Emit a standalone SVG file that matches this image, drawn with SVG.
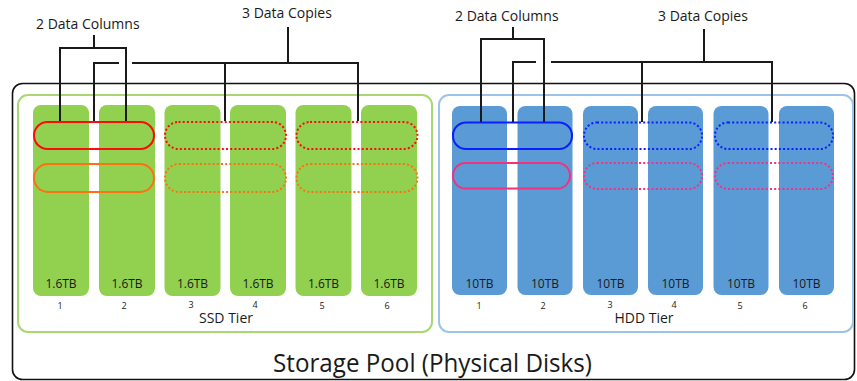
<svg xmlns="http://www.w3.org/2000/svg" width="857" height="381" viewBox="0 0 857 381">
  <style>
    text { font-family: "Open Sans", "Liberation Sans", sans-serif; fill: #1a1a1a; }
    .label { font-size: 14px; }
    .cap { font-size: 12px; text-anchor: middle; }
    .num { font-size: 9px; text-anchor: middle; }
    .tier { font-size: 14px; text-anchor: middle; }
    .ssd { fill: #92D050; }
    .hdd { fill: #5B9BD5; }
    .ring { fill: none; stroke-width: 2; }
    .dot { stroke-dasharray: 2 2.2; }
    .red { stroke: #ff0a0a; }
    .orange { stroke: #ff7010; }
    .blue { stroke: #0a1eff; }
    .pink { stroke: #f5307e; }
    .conn { fill: none; stroke: #1a1a1a; stroke-width: 2; }
  </style>

  <!-- storage pool frame -->
  <g id="storage-pool">
    <rect x="12.5" y="83.5" width="842" height="296" rx="10" fill="#ffffff" stroke="#111" stroke-width="1.6"/>
    <text x="273" y="372" font-size="26" textLength="319" lengthAdjust="spacingAndGlyphs">Storage Pool (Physical Disks)</text>
  </g>

  <!-- SSD tier -->
  <g id="ssd-tier">
    <rect x="18" y="95" width="414" height="237" rx="10" fill="none" stroke="#a9d873" stroke-width="2"/>
    <text class="tier" x="226" y="323">SSD Tier</text>
  </g>
  <g id="ssd-disks">
    <g id="ssd-1"><rect class="ssd" x="33" y="105" width="56" height="191" rx="8"/><text class="cap" x="61" y="288">1.6TB</text><text class="num" x="60" y="309">1</text></g>
    <g id="ssd-2"><rect class="ssd" x="99" y="105" width="56" height="191" rx="8"/><text class="cap" x="127" y="288">1.6TB</text><text class="num" x="124" y="309">2</text></g>
    <g id="ssd-3"><rect class="ssd" x="164.5" y="105" width="56" height="191" rx="8"/><text class="cap" x="192.5" y="288">1.6TB</text><text class="num" x="191" y="308">3</text></g>
    <g id="ssd-4"><rect class="ssd" x="230" y="105" width="56" height="191" rx="8"/><text class="cap" x="258" y="288">1.6TB</text><text class="num" x="255" y="308">4</text></g>
    <g id="ssd-5"><rect class="ssd" x="295.5" y="105" width="56" height="191" rx="8"/><text class="cap" x="323.5" y="288">1.6TB</text><text class="num" x="322" y="309">5</text></g>
    <g id="ssd-6"><rect class="ssd" x="361" y="105" width="56" height="191" rx="8"/><text class="cap" x="389" y="288">1.6TB</text><text class="num" x="387" y="309">6</text></g>
  </g>

  <!-- HDD tier -->
  <g id="hdd-tier">
    <rect x="439" y="95" width="414" height="237" rx="10" fill="none" stroke="#9dc3e6" stroke-width="2"/>
    <text class="tier" x="644" y="323">HDD Tier</text>
  </g>
  <g id="hdd-disks">
    <g id="hdd-1"><rect class="hdd" x="452" y="106" width="55" height="189" rx="8"/><text class="cap" x="479.5" y="288">10TB</text><text class="num" x="479" y="309">1</text></g>
    <g id="hdd-2"><rect class="hdd" x="517.5" y="106" width="55" height="189" rx="8"/><text class="cap" x="545" y="288">10TB</text><text class="num" x="543" y="309">2</text></g>
    <g id="hdd-3"><rect class="hdd" x="583" y="106" width="55" height="189" rx="8"/><text class="cap" x="610.5" y="288">10TB</text><text class="num" x="610" y="308">3</text></g>
    <g id="hdd-4"><rect class="hdd" x="648" y="106" width="55" height="189" rx="8"/><text class="cap" x="675.5" y="288">10TB</text><text class="num" x="674" y="308">4</text></g>
    <g id="hdd-5"><rect class="hdd" x="713.5" y="106" width="55" height="189" rx="8"/><text class="cap" x="741" y="288">10TB</text><text class="num" x="740" y="309">5</text></g>
    <g id="hdd-6"><rect class="hdd" x="779" y="106" width="55" height="189" rx="8"/><text class="cap" x="806.5" y="288">10TB</text><text class="num" x="805" y="309">6</text></g>
  </g>

  <!-- data columns and their copies -->
  <g id="ssd-slabs">
    <rect class="ring red" x="34" y="122" width="120" height="27" rx="13.5"/>
    <rect class="ring orange" x="34" y="164" width="120" height="28" rx="14"/>
    <rect class="ring red dot" x="165" y="122" width="121" height="27" rx="13.5"/>
    <rect class="ring orange dot" x="165" y="164" width="121" height="28" rx="14"/>
    <rect class="ring red dot" x="296.5" y="122" width="121" height="27" rx="13.5"/>
    <rect class="ring orange dot" x="296.5" y="164" width="121" height="28" rx="14"/>
  </g>
  <g id="hdd-slabs">
    <rect class="ring blue" x="453" y="122.5" width="119" height="26.5" rx="13"/>
    <rect class="ring pink" x="453" y="163" width="117" height="25.5" rx="12.5"/>
    <rect class="ring blue dot" x="584" y="122.5" width="118" height="26.5" rx="13"/>
    <rect class="ring pink dot" x="584" y="163" width="118" height="26" rx="13"/>
    <rect class="ring blue dot" x="715" y="122.5" width="118" height="26.5" rx="13"/>
    <rect class="ring pink dot" x="715" y="163" width="118" height="26" rx="13"/>
  </g>

  <!-- callout labels -->
  <g id="ssd-columns-label"><text class="label" x="36" y="29">2 Data Columns</text></g>
  <g id="ssd-copies-label"><text class="label" x="242" y="18">3 Data Copies</text></g>
  <g id="hdd-columns-label"><text class="label" x="455" y="21">2 Data Columns</text></g>
  <g id="hdd-copies-label"><text class="label" x="658" y="21">3 Data Copies</text></g>

  <!-- bracket connectors -->
  <g id="connectors">
    <path class="conn" d="M94,35 V48 M60,121 V48 H126 V121"/>
    <path class="conn" d="M94,121 V63 H119 M132,63 H358 V121 M225,63 V121 M288,27 V63"/>
    <path class="conn" d="M513,27 V39 M481,122 V39 H544 V122"/>
    <path class="conn" d="M513,122 V62 H536 M551,62 H772 V122 M642,62 V122 M704,29 V62"/>
  </g>
</svg>
